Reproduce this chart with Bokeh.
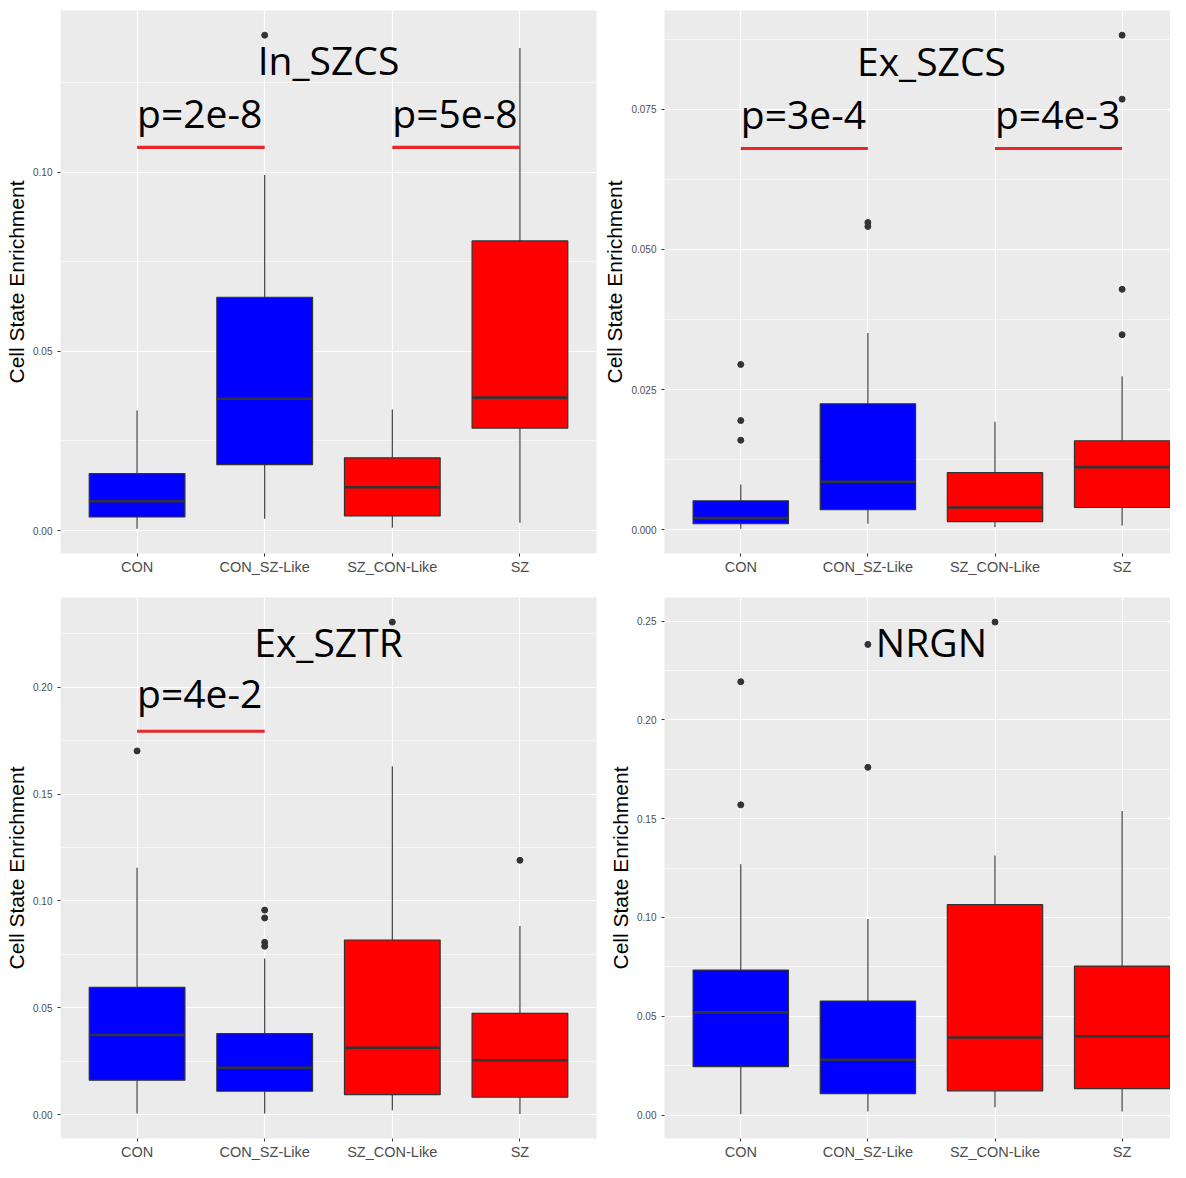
from bokeh.plotting import figure
from bokeh.layouts import gridplot
from bokeh.models import FixedTicker, Range1d
from bokeh.core.properties import value
from bokeh.embed import file_html
from bokeh.resources import INLINE

categories = ["CON", "CON_SZ-Like", "SZ_CON-Like", "SZ"]
group_colors = ["#0000FF", "#0000FF", "#FF0000", "#FF0000"]

# ---- In_SZCS ----
in_szcs_low = [0.0005, 0.0033, 0.0008, 0.0022]
in_szcs_q1 = [0.0038, 0.0184, 0.0041, 0.0286]
in_szcs_med = [0.0082, 0.0368, 0.0121, 0.0371]
in_szcs_q3 = [0.0159, 0.0651, 0.0203, 0.0808]
in_szcs_high = [0.0335, 0.0992, 0.0338, 0.1346]
in_szcs_out_cat = ["CON_SZ-Like"]
in_szcs_out_val = [0.1382]
in_szcs_ticks = [0.0, 0.05, 0.10]
in_szcs_tick_labels = ["0.00", "0.05", "0.10"]

# ---- Ex_SZCS ----
ex_szcs_low = [0.0002, 0.0011, 0.0005, 0.0008]
ex_szcs_q1 = [0.0011, 0.0036, 0.0015, 0.0040]
ex_szcs_med = [0.0021, 0.0086, 0.0040, 0.0112]
ex_szcs_q3 = [0.0052, 0.0225, 0.0102, 0.0159]
ex_szcs_high = [0.0081, 0.0351, 0.0193, 0.0274]
ex_szcs_out_cat = ["CON", "CON", "CON", "CON_SZ-Like", "CON_SZ-Like", "SZ", "SZ", "SZ", "SZ"]
ex_szcs_out_val = [0.0295, 0.0195, 0.0160, 0.0548, 0.0541, 0.0348, 0.0429, 0.0768, 0.0882]
ex_szcs_ticks = [0.0, 0.025, 0.05, 0.075]
ex_szcs_tick_labels = ["0.000", "0.025", "0.050", "0.075"]

# ---- Ex_SZTR ----
ex_sztr_low = [0.0005, 0.0005, 0.0020, 0.0003]
ex_sztr_q1 = [0.0161, 0.0109, 0.0093, 0.0081]
ex_sztr_med = [0.0373, 0.0219, 0.0313, 0.0254]
ex_sztr_q3 = [0.0595, 0.0379, 0.0817, 0.0474]
ex_sztr_high = [0.1155, 0.0730, 0.1630, 0.0883]
ex_sztr_out_cat = ["CON", "CON_SZ-Like", "CON_SZ-Like", "CON_SZ-Like", "CON_SZ-Like", "SZ_CON-Like", "SZ"]
ex_sztr_out_val = [0.1702, 0.0957, 0.0920, 0.0806, 0.0788, 0.2305, 0.1190]
ex_sztr_ticks = [0.0, 0.05, 0.10, 0.15, 0.20]
ex_sztr_tick_labels = ["0.00", "0.05", "0.10", "0.15", "0.20"]

# ---- NRGN ----
nrgn_low = [0.0006, 0.0018, 0.0040, 0.0018]
nrgn_q1 = [0.0245, 0.0109, 0.0123, 0.0134]
nrgn_med = [0.0520, 0.0280, 0.0393, 0.0399]
nrgn_q3 = [0.0734, 0.0577, 0.1065, 0.0754]
nrgn_high = [0.1269, 0.0993, 0.1314, 0.1539]
nrgn_out_cat = ["CON", "CON", "CON_SZ-Like", "CON_SZ-Like", "SZ_CON-Like"]
nrgn_out_val = [0.1570, 0.2193, 0.1760, 0.2382, 0.2495]
nrgn_ticks = [0.0, 0.05, 0.10, 0.15, 0.20, 0.25]
nrgn_tick_labels = ["0.00", "0.05", "0.10", "0.15", "0.20", "0.25"]

# ---- annotations ----
panel_titles = ["In_SZCS", "Ex_SZCS", "Ex_SZTR", "NRGN"]
panel_title_y = [0.1266, 0.0806, 0.2133, 0.2310]
in_szcs_pvals = ["p=2e-8", "p=5e-8"]
in_szcs_pairs = [("CON", "CON_SZ-Like"), ("SZ_CON-Like", "SZ")]
in_szcs_p_text_y = 0.1118
in_szcs_p_bar_y = 0.1069
ex_szcs_pvals = ["p=3e-4", "p=4e-3"]
ex_szcs_pairs = [("CON", "CON_SZ-Like"), ("SZ_CON-Like", "SZ")]
ex_szcs_p_text_y = 0.0712
ex_szcs_p_bar_y = 0.0680
ex_sztr_pvals = ["p=4e-2"]
ex_sztr_pairs = [("CON", "CON_SZ-Like")]
ex_sztr_p_text_y = 0.1895
ex_sztr_p_bar_y = 0.1794
nrgn_pvals = []
nrgn_pairs = []

pos = {c: i + 1 for i, c in enumerate(categories)}
BOX_W = 0.75
DARK = "#333333"
TEXT_SHIFT = -17  # compensates the renderer's alphabetic-baseline placement


def make_panel(low, q1, med, q3, high, out_cat, out_val, ticks, tick_labels,
               title, title_y, pvals, pairs, p_text_y, p_bar_y,
               width, height, left, right, top, bottom, x_end):
    ymin = min(low + out_val)
    ymax = max(high + out_val)
    span = ymax - ymin
    p = figure(width=width, height=height, output_backend="svg", toolbar_location=None,
               x_range=Range1d(0.4, x_end), y_range=Range1d(ymin - 0.05 * span, ymax + 0.05 * span),
               min_border_left=left, min_border_right=right, min_border_top=top,
               min_border_bottom=bottom)
    p.background_fill_color = "#EBEBEB"
    p.border_fill_color = "white"
    p.outline_line_color = None

    minor = [(a + b) / 2 for a, b in zip(ticks[:-1], ticks[1:])]
    step = ticks[1] - ticks[0]
    minor = [ticks[0] - step / 2] + minor + [ticks[-1] + step / 2]
    yt = FixedTicker(ticks=ticks, minor_ticks=minor)
    p.yaxis.ticker = yt
    p.ygrid.ticker = yt
    p.yaxis.major_label_overrides = {t: l for t, l in zip(ticks, tick_labels)}
    xt = FixedTicker(ticks=[pos[c] for c in categories])
    p.xaxis.ticker = xt
    p.xgrid.ticker = xt
    p.xaxis.major_label_overrides = {pos[c]: c for c in categories}

    for g in (p.xgrid, p.ygrid):
        g.grid_line_color = "white"
        g.grid_line_width = 1.2
    p.ygrid.minor_grid_line_color = "white"
    p.ygrid.minor_grid_line_width = 0.6

    for ax in (p.xaxis, p.yaxis):
        ax.axis_line_color = None
        ax.major_tick_line_color = DARK
        ax.major_tick_in = 0
        ax.major_tick_out = 3
        ax.minor_tick_line_color = None
        ax.major_label_text_color = "#4D4D4D"
        ax.major_label_text_font = "Liberation Sans"
    p.xaxis.major_label_standoff = 2
    p.yaxis.major_label_standoff = 4
    p.xaxis.major_label_text_font_size = "14.5px"
    p.yaxis.major_label_text_font_size = "10px"
    p.yaxis.axis_label = "Cell State Enrichment"
    p.yaxis.axis_label_text_font = "Liberation Sans"
    p.yaxis.axis_label_text_font_size = "21px"
    p.yaxis.axis_label_text_font_style = "normal"
    p.yaxis.axis_label_text_color = "black"
    p.yaxis.axis_label_standoff = 2

    xs = [pos[c] for c in categories]
    p.segment(x0=xs, y0=q3, x1=xs, y1=high, line_color=DARK, line_width=1.1)
    p.segment(x0=xs, y0=low, x1=xs, y1=q1, line_color=DARK, line_width=1.1)
    p.vbar(x=xs, width=BOX_W, bottom=q1, top=q3, fill_color=group_colors,
           line_color=DARK, line_width=1.2)
    p.segment(x0=[x - BOX_W / 2 for x in xs], y0=med, x1=[x + BOX_W / 2 for x in xs], y1=med,
              line_color=DARK, line_width=2.6)
    p.scatter(x=[pos[c] for c in out_cat], y=out_val, size=6, color=DARK)

    p.text(x=[2.5], y=[title_y], text=[title], text_font=value("Open Sans"),
           text_font_size="39px", text_align="center", text_baseline="alphabetic",
           text_color="black", y_offset=TEXT_SHIFT)
    if pvals:
        p.text(x=[pos[a] for a, b in pairs], y=[p_text_y] * len(pvals), text=pvals,
               text_font=value("Open Sans"), text_font_size="39px", text_align="left",
               text_baseline="alphabetic", text_color="black", y_offset=TEXT_SHIFT)
        p.segment(x0=[pos[a] for a, b in pairs], y0=[p_bar_y] * len(pairs),
                  x1=[pos[b] for a, b in pairs], y1=[p_bar_y] * len(pairs),
                  line_color="#E8262B", line_width=3.2)
    return p


LW, RW = 600, 570
L_LEFT, L_RIGHT, R_LEFT = 60, 4, 62
px_per_unit = (LW - L_LEFT - L_RIGHT) / 4.2
x_end_right = 0.4 + (RW - R_LEFT) / px_per_unit
TOP_H, BOT_H = 589, 573

p1 = make_panel(in_szcs_low, in_szcs_q1, in_szcs_med, in_szcs_q3, in_szcs_high,
                in_szcs_out_cat, in_szcs_out_val, in_szcs_ticks, in_szcs_tick_labels,
                panel_titles[0], panel_title_y[0], in_szcs_pvals, in_szcs_pairs,
                in_szcs_p_text_y, in_szcs_p_bar_y, LW, TOP_H, L_LEFT, L_RIGHT, 10, 36, 4.6)
p2 = make_panel(ex_szcs_low, ex_szcs_q1, ex_szcs_med, ex_szcs_q3, ex_szcs_high,
                ex_szcs_out_cat, ex_szcs_out_val, ex_szcs_ticks, ex_szcs_tick_labels,
                panel_titles[1], panel_title_y[1], ex_szcs_pvals, ex_szcs_pairs,
                ex_szcs_p_text_y, ex_szcs_p_bar_y, RW, TOP_H, R_LEFT, 0, 10, 36, x_end_right)
p3 = make_panel(ex_sztr_low, ex_sztr_q1, ex_sztr_med, ex_sztr_q3, ex_sztr_high,
                ex_sztr_out_cat, ex_sztr_out_val, ex_sztr_ticks, ex_sztr_tick_labels,
                panel_titles[2], panel_title_y[2], ex_sztr_pvals, ex_sztr_pairs,
                ex_sztr_p_text_y, ex_sztr_p_bar_y, LW, BOT_H, L_LEFT, L_RIGHT, 8, 22, 4.6)
p4 = make_panel(nrgn_low, nrgn_q1, nrgn_med, nrgn_q3, nrgn_high,
                nrgn_out_cat, nrgn_out_val, nrgn_ticks, nrgn_tick_labels,
                panel_titles[3], panel_title_y[3], nrgn_pvals, nrgn_pairs,
                0, 0, RW, BOT_H, R_LEFT, 0, 8, 22, x_end_right)

grid = gridplot([[p1, p2], [p3, p4]], toolbar_location=None)

with open("out.html", "w") as f:
    f.write(file_html(grid, INLINE, title="Cell State Enrichment"))
